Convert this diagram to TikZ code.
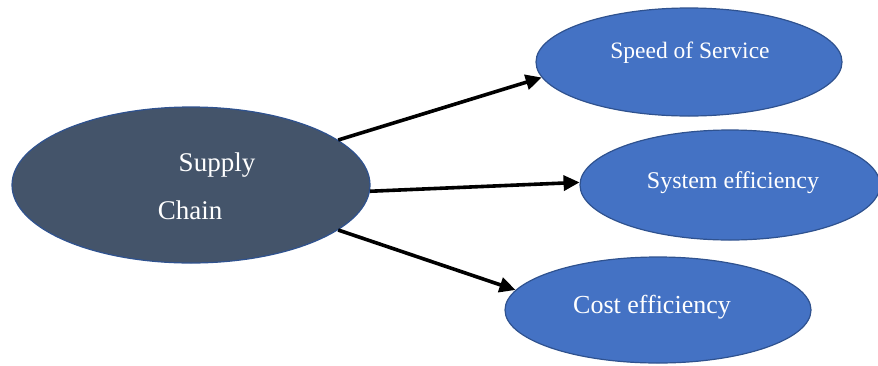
\documentclass[tikz,border=0pt]{standalone}
\usepackage{fontspec}
\setmainfont{Liberation Serif}
\usetikzlibrary{arrows.meta,shapes.geometric}
\definecolor{darkfill}{HTML}{44546A}
\definecolor{bluefill}{HTML}{4472C4}
\definecolor{edgeblue}{HTML}{2F528F}
\tikzset{
  bubble/.style={ellipse, draw=edgeblue, line width=1.2pt, inner sep=0pt},
  lbl/.style={text=white, inner sep=0pt, anchor=base},
  arr/.style={line width=3.6pt, -{Triangle[length=16pt,width=15pt]}}
}
\begin{document}
\begin{tikzpicture}[x=1pt,y=-1pt]
\useasboundingbox (0,0) rectangle (878,365);
\clip (0,0) rectangle (878,365);
\node[bubble, fill=darkfill, minimum width=358pt, minimum height=156pt] (sc) at (191,185) {};
\node[bubble, fill=bluefill, minimum width=306pt, minimum height=108pt] (sp) at (689,62) {};
\node[bubble, fill=bluefill, minimum width=300pt, minimum height=110pt] (sy) at (730,185) {};
\node[bubble, fill=bluefill, minimum width=306pt, minimum height=106pt] (co) at (658,310) {};
\node[lbl, font=\fontsize{27}{30}\selectfont] (t1) at (217,171) {Supply};
\node[lbl, font=\fontsize{27}{30}\selectfont] (t2) at (190,219) {Chain};
\node[lbl, font=\fontsize{23.5}{26}\selectfont] (t3) at (690,58) {Speed of Service};
\node[lbl, font=\fontsize{24}{26}\selectfont] (t4) at (733,188) {System efficiency};
\node[lbl, font=\fontsize{26}{28}\selectfont] (t5) at (652,313) {Cost efficiency};
\draw[arr] (sc.17) -- (sp.186.5);
\draw[arr] (sc.-2) -- (sy.179);
\draw[arr] (sc.-17) -- (co.172);
\end{tikzpicture}
\end{document}
